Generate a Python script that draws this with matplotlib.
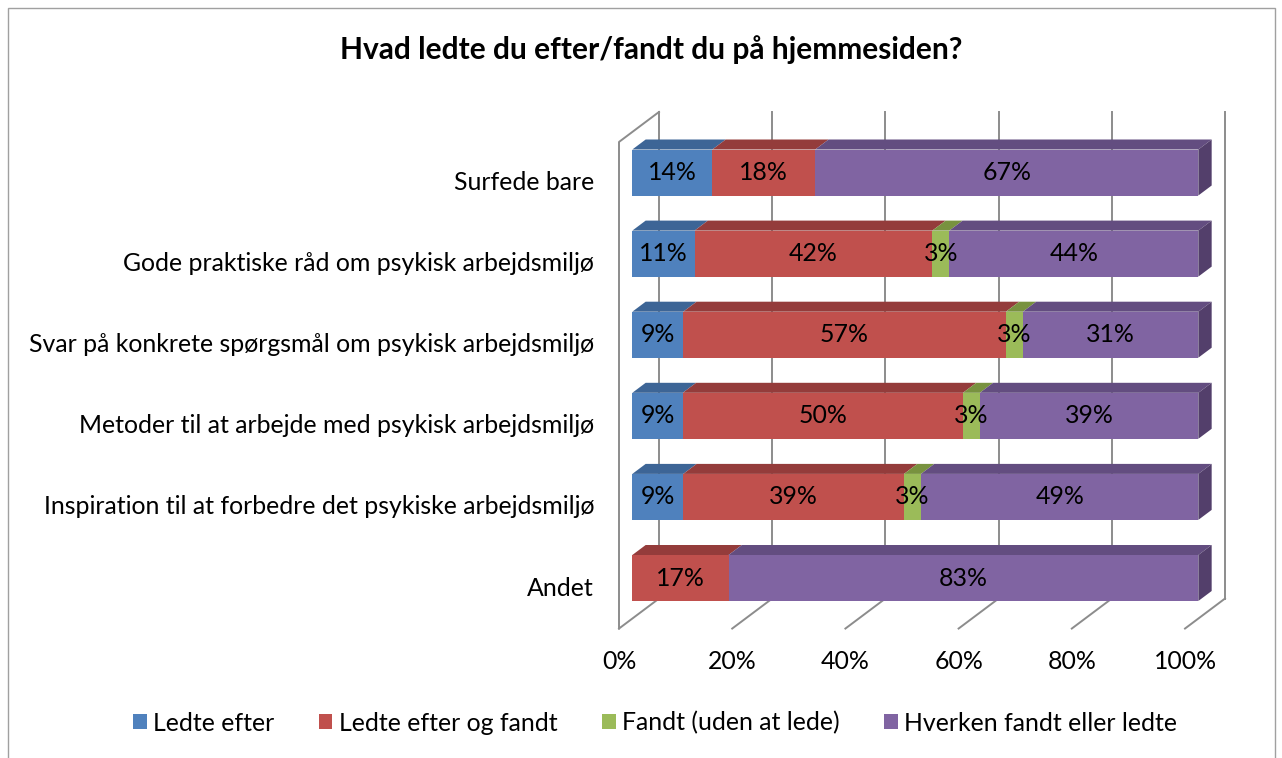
import matplotlib
matplotlib.use("Agg")
import matplotlib.pyplot as plt
from matplotlib.patches import Polygon, Patch, Rectangle

categories = [
    "Surfede bare",
    "Gode praktiske råd om psykisk arbejdsmiljø",
    "Svar på konkrete spørgsmål om psykisk arbejdsmiljø",
    "Metoder til at arbejde med psykisk arbejdsmiljø",
    "Inspiration til at forbedre det psykiske arbejdsmiljø",
    "Andet",
]
series = ["Ledte efter", "Ledte efter og fandt", "Fandt (uden at lede)", "Hverken fandt eller ledte"]
ledte_efter = [14, 11, 9, 9, 9, 0]
ledte_og_fandt = [18, 42, 57, 50, 39, 17]
fandt = [0, 3, 3, 3, 3, 0]
hverken = [67, 44, 31, 39, 49, 83]
ticks = [0, 20, 40, 60, 80, 100]

front_colors = ["#4F81BD", "#C0504D", "#9BBB59", "#8064A2"]
top_colors = ["#3D6596", "#943C3B", "#78923F", "#634D80"]
side_color = "#533F6B"
grid_color = "#8C8C8C"

plt.rcParams["font.family"] = ["Lato", "DejaVu Sans"]
FS = 17.9

fig = plt.figure(figsize=(12.82, 7.58), dpi=100)
ax = fig.add_axes([0, 0, 1, 1])
ax.axis("off")

# x in percent, y in category rows; limits chosen so the floor front edge runs 0..100
PX_X, PX_Y = 5.66, 81.1
x0_px, y0_px = 619, 182.5
ax.set_xlim(-x0_px / PX_X, (1282 - x0_px) / PX_X)
ax.set_ylim((758 - y0_px) / PX_Y, -y0_px / PX_Y)

# oblique depth vector (full depth of the floor)
DX, DY = 40 / PX_X, -30 / PX_Y
D_FRONT, D_BACK = 1 / 3, 2 / 3
BAR_H = 46 / PX_Y
Y_TOP, Y_BOT = -0.5, 5.5


def proj(x, y, d):
    return x + d * DX, y + d * DY


# walls and gridlines
for t in ticks:
    xa, ya = proj(t, Y_TOP, 1)
    xb, yb = proj(t, Y_BOT, 1)
    ax.plot([xa, xb], [ya, yb], color=grid_color, lw=1.4, zorder=1)
    xf, yf = proj(t, Y_BOT, 0)
    ax.plot([xf, xb], [yf, yb], color=grid_color, lw=1.4, zorder=1)
    ax.text(xf, Y_BOT + 0.41, f"{t}%", ha="center", va="center", fontsize=FS)

xa, ya = proj(0, Y_TOP, 0)
xb, yb = proj(0, Y_BOT, 0)
xc, yc = proj(0, Y_TOP, 1)
ax.plot([xb, xa, xc], [yb, ya, yc], color=grid_color, lw=1.4, zorder=1)

# stacked 3D bars
data = [ledte_efter, ledte_og_fandt, fandt, hverken]
for i, cat in enumerate(categories):
    vals = [s[i] for s in data]
    total = sum(vals)
    left = 0.0
    yc_front = i + D_FRONT * DY
    top = yc_front - BAR_H / 2
    bottom = yc_front + BAR_H / 2
    ddx, ddy = (D_BACK - D_FRONT) * DX, (D_BACK - D_FRONT) * DY
    last = max(k for k, v in enumerate(vals) if v > 0)
    for k, v in enumerate(vals):
        if v == 0:
            continue
        w = v / total * 100
        xl = left + D_FRONT * DX
        xr = xl + w
        ax.barh(yc_front, w, left=xl, height=BAR_H, color=front_colors[k],
                linewidth=0, zorder=3)
        ax.add_patch(Polygon([(xl, top), (xr, top), (xr + ddx, top + ddy), (xl + ddx, top + ddy)],
                             closed=True, facecolor=top_colors[k], edgecolor="none", zorder=2))
        if k == last:
            ax.add_patch(Polygon([(xr, top), (xr, bottom), (xr + ddx, bottom + ddy), (xr + ddx, top + ddy)],
                                 closed=True, facecolor=side_color, edgecolor="none", zorder=2))
        ax.text((xl + xr) / 2, yc_front, f"{v}%", ha="center", va="center", fontsize=FS, zorder=4)
        left += w
    ax.text(-4.4, i, cat, ha="right", va="center", fontsize=FS)

fig.text(651 / 1282, 1 - 50 / 758, "Hvad ledte du efter/fandt du på hjemmesiden?",
         ha="center", va="center", fontsize=21.5, fontweight="bold")

handles = [Patch(facecolor=c, edgecolor="none") for c in front_colors]
fig.legend(handles, series, loc="center", bbox_to_anchor=(655 / 1282, 1 - 723 / 758), ncol=4,
           frameon=False, fontsize=FS, handlelength=0.55, handleheight=0.55,
           handletextpad=0.25, columnspacing=1.8)

# chart area border
fig.patches.append(Rectangle((8 / 1282, -0.05), (1275 - 8) / 1282, 1.05 - 8 / 758,
                             transform=fig.transFigure, fill=False, edgecolor="#A0A0A0", lw=1.0))

fig.savefig("out.png", dpi=100)
